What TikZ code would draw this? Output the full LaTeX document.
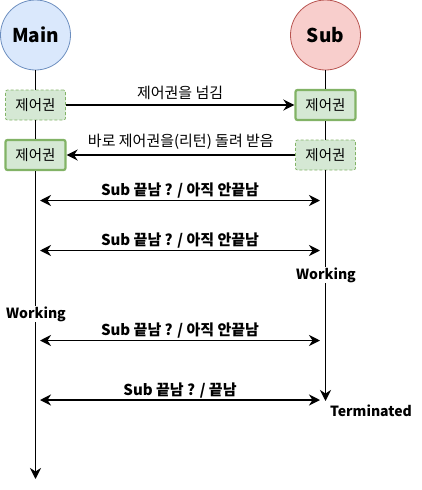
\documentclass[tikz,border=0pt]{standalone}
\usepackage{fontspec}
\setmainfont{Noto Sans CJK KR}
\usepackage{xcolor}
\usetikzlibrary{arrows.meta}

\definecolor{mainfill}{HTML}{DAE8FC}
\definecolor{mainline}{HTML}{6C8EBF}
\definecolor{subfill}{HTML}{F8CECC}
\definecolor{subline}{HTML}{B85450}
\definecolor{tokenfill}{HTML}{D5E8D4}
\definecolor{tokenline}{HTML}{82B366}

\tikzset{
    thread/.style={circle, minimum size=70pt, inner sep=0pt, line width=0.8pt, font=\bfseries\fontsize{19}{22}\selectfont},
    token/.style={draw=tokenline, fill=tokenfill, rounded corners=2pt, minimum width=60pt, minimum height=30pt, inner sep=0pt, font=\fontsize{14.5}{16}\selectfont},
    idle/.style={token, dash pattern=on 3pt off 2pt, line width=0.7pt},
    owner/.style={token, line width=2.2pt},
    state/.style={fill=white, inner sep=1pt, font=\bfseries\fontsize{14}{16}\selectfont},
    note/.style={midway, above=1pt, font=\fontsize{15}{17}\selectfont},
    poll/.style={midway, above=-2pt, font=\bfseries\fontsize{15}{17}\selectfont}
}

\begin{document}
\begin{tikzpicture}[x=1pt, y=-1pt, line width=1.8pt, >={Stealth[length=11pt, width=11pt, inset=3.5pt]}]
    \useasboundingbox (0,0) rectangle (421,490);
    % Threads and control tokens
    \node[thread, draw=mainline, fill=mainfill] (main) at (35.5,35) {Main};
    \node[thread, draw=subline, fill=subfill] (sub) at (325.5,35) {Sub};
    \node[idle] (mgive) at (35.5,105) {제어권};
    \node[owner] (sget) at (325.5,105) {제어권};
    \node[owner] (mback) at (35.5,155) {제어권};
    \node[idle] (sgive) at (325.5,155) {제어권};
    \coordinate (mend) at (35.5,479);
    \coordinate (send) at (325.5,401);
    % Draw the life lines
    \draw (main) -- (mgive);
    \draw (mgive) -- (mback);
    \draw[->] (mback) -- (mend);
    \draw (sub) -- (sget);
    \draw (sget) -- (sgive);
    \draw[->] (sgive) -- (send);
    \node[state] (mwork) at (36,314) {Working};
    \node[state] (swork) at (326,275) {Working};
    \node[state, fill=none] (sterm) at (371,411) {Terminated};
    % Hand over and return
    \draw[->] (mgive) -- (sget) node[note] {제어권을 넘김};
    \draw[->] (sgive) -- (mback) node[note] {바로 제어권을(리턴) 돌려 받음};
    % Draw the polling
    \foreach \i/\y/\txt in {1/200.5/{Sub 끝남 ? / 아직 안끝남}, 2/250.5/{Sub 끝남 ? / 아직 안끝남}, 3/340.5/{Sub 끝남 ? / 아직 안끝남}, 4/400/{Sub 끝남 ? / 끝남}} {
        \coordinate (ask\i) at (40,\y);
        \coordinate (ans\i) at (320,\y);
        \draw[<->] (ask\i) -- (ans\i) node[poll] {\txt};
    }
\end{tikzpicture}
\end{document}
